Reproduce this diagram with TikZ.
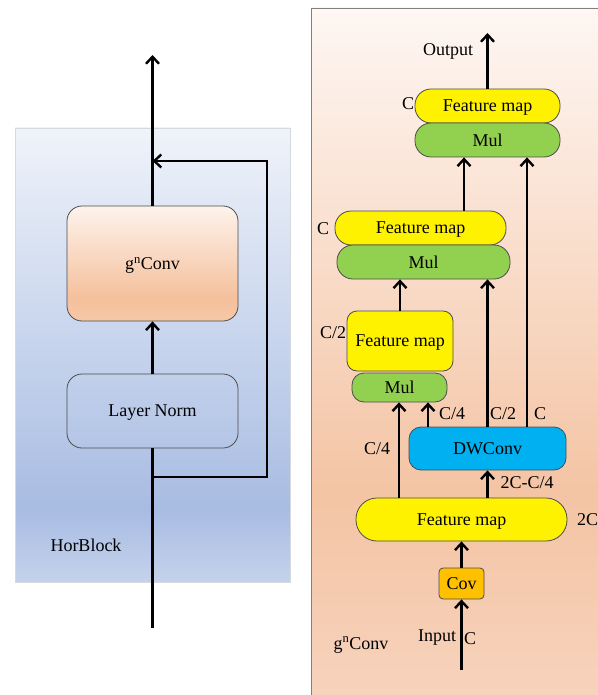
\documentclass[tikz,border=0pt]{standalone}
\usepackage{fontspec}
\setmainfont{Liberation Serif}
\usetikzlibrary{arrows.meta}
\definecolor{lpT}{HTML}{EFF3FA}
\definecolor{lpD}{HTML}{A8BCE2}
\definecolor{lpB}{HTML}{C5D2ED}
\definecolor{rpT}{HTML}{FEF7F3}
\definecolor{rpD}{HTML}{F4C4A4}
\definecolor{rpB}{HTML}{F7D3BD}
\definecolor{gnT}{HTML}{FDF3EC}
\definecolor{gnD}{HTML}{F5C09C}
\definecolor{gnB}{HTML}{F6C8A8}
\definecolor{mulgreen}{HTML}{92D050}
\definecolor{dwblue}{HTML}{00B0F0}
\definecolor{covorange}{HTML}{FFC000}
\definecolor{panelborder}{HTML}{D6D9DE}
\definecolor{rpborder}{HTML}{808080}
\pgfdeclareverticalshading{lpshade}{100bp}{color(0bp)=(lpB); color(25bp)=(lpB); color(33bp)=(lpD); color(75bp)=(lpT); color(100bp)=(lpT)}
\pgfdeclareverticalshading{rpshade}{100bp}{color(0bp)=(rpB); color(25bp)=(rpB); color(40bp)=(rpD); color(75bp)=(rpT); color(100bp)=(rpT)}
\pgfdeclareverticalshading{gnshade}{100bp}{color(0bp)=(gnB); color(25bp)=(gnB); color(35bp)=(gnD); color(75bp)=(gnT); color(100bp)=(gnT)}
\begin{document}
\begin{tikzpicture}[x=1pt,y=-1pt,
  font=\fontsize{18}{21}\selectfont,
  every node/.style={text depth=0pt},
  boxline/.style={draw=black!70, line width=0.8pt, inner sep=0pt},
  fmy/.style={boxline, fill=yellow, rounded corners=16pt},
  mulg/.style={boxline, fill=mulgreen, rounded corners=16pt},
  thk/.style={line width=2.4pt, line join=miter},
  arr/.style={thk, -{Straight Barb[length=7pt,width=13pt]}},
  lbl/.style={inner sep=0pt}]
\useasboundingbox (0,0) rectangle (597,695);
% panels
\shadedraw[shading=lpshade, draw=panelborder, line width=0.8pt] (15,128) rectangle (290,582);
\shadedraw[shading=rpshade, draw=rpborder, line width=0.8pt] (311.5,8) rectangle (603,701);
% left nodes
\node[boxline, shading=gnshade, rounded corners=15pt, minimum width=171pt, minimum height=115pt] (gn) at (152.5,263.5) {g\textsuperscript{n}Conv};
\node[boxline, rounded corners=15pt, minimum width=171pt, minimum height=74pt] (ln) at (152.5,411) {Layer Norm};
\node[lbl] (hb) at (86,545) {HorBlock};
\coordinate (lin) at (152.5,628);
\coordinate (lout) at (152.5,55);
\coordinate (sp) at (152.5,477);
\coordinate (sr1) at (267,477);
\coordinate (sr2) at (267,161);
\coordinate (sj) at (152.5,161);
\draw[thk] (lin) -- (ln.south);
\draw[arr] (ln.north) -- (gn.south);
\draw[arr] (gn.north) -- (lout);
\draw[arr] (sp) -- (sr1) -- (sr2) -- (sj);
% right nodes
\node[fmy, minimum width=145pt, minimum height=34pt] (fmA) at (487.5,106) {Feature map};
\node[mulg, minimum width=145pt, minimum height=34pt] (mulA) at (487.5,140) {Mul};
\node[fmy, minimum width=171pt, minimum height=34pt] (fmB) at (420.5,228) {Feature map};
\node[mulg, minimum width=173pt, minimum height=34pt] (mulB) at (423.5,262) {Mul};
\node[boxline, fill=yellow, rounded corners=10pt, minimum width=106pt, minimum height=60pt] (fmC) at (400,341) {Feature map};
\node[boxline, fill=mulgreen, rounded corners=12pt, minimum width=95pt, minimum height=29pt] (mulC) at (399.5,387.5) {Mul};
\node[boxline, fill=dwblue, rounded corners=12pt, minimum width=157pt, minimum height=43pt] (dw) at (487.5,448.5) {DWConv};
\node[fmy, rounded corners=21pt, minimum width=211pt, minimum height=43pt] (fm1) at (461.5,519.5) {Feature map};
\node[boxline, fill=covorange, rounded corners=4pt, minimum width=45pt, minimum height=31pt] (cov) at (461.5,583.5) {Cov};
\coordinate (rin) at (461.5,670);
\coordinate (rout) at (487.5,33);
% right connectors
\draw[arr] (rin) -- (cov.south);
\draw[arr] (cov.north) -- (fm1.south);
\draw[arr] (fm1.north -| dw.south) -- (dw.south);
\draw[arr] (399,0 |- fm1.north) -- (399,0 |- mulC.south);
\draw[arr] (428,0 |- dw.north) -- (428,0 |- mulC.south);
\draw[arr] (dw.north) -- (dw.north |- mulB.south);
\draw[arr] (527,0 |- dw.north) -- (527,0 |- mulA.south);
\draw[arr] (fmC.north) -- (fmC.north |- mulB.south);
\draw[arr] (464,0 |- fmB.north) -- (464,0 |- mulA.south);
\draw[arr] (fmA.north) -- (rout);
% labels
\node[lbl] (tOut) at (448,50) {Output};
\node[lbl] (tCA) at (408,104) {C};
\node[lbl] (tCB) at (323,229) {C};
\node[lbl] (tC2a) at (333,333) {C/2};
\node[lbl] (tC4a) at (452,414) {C/4};
\node[lbl] (tC2b) at (503,414) {C/2};
\node[lbl] (tCc) at (540,414) {C};
\node[lbl] (tC4b) at (377,449) {C/4};
\node[lbl] (t2cc) at (527,483) {2C-C/4};
\node[lbl, anchor=west] (t2c) at (577,520) {2C};
\node[lbl] (tin) at (437,636) {Input};
\node[lbl] (tinc) at (470,639) {C};
\node[lbl] (tgn) at (361,643) {g\textsuperscript{n}Conv};
\end{tikzpicture}
\end{document}
